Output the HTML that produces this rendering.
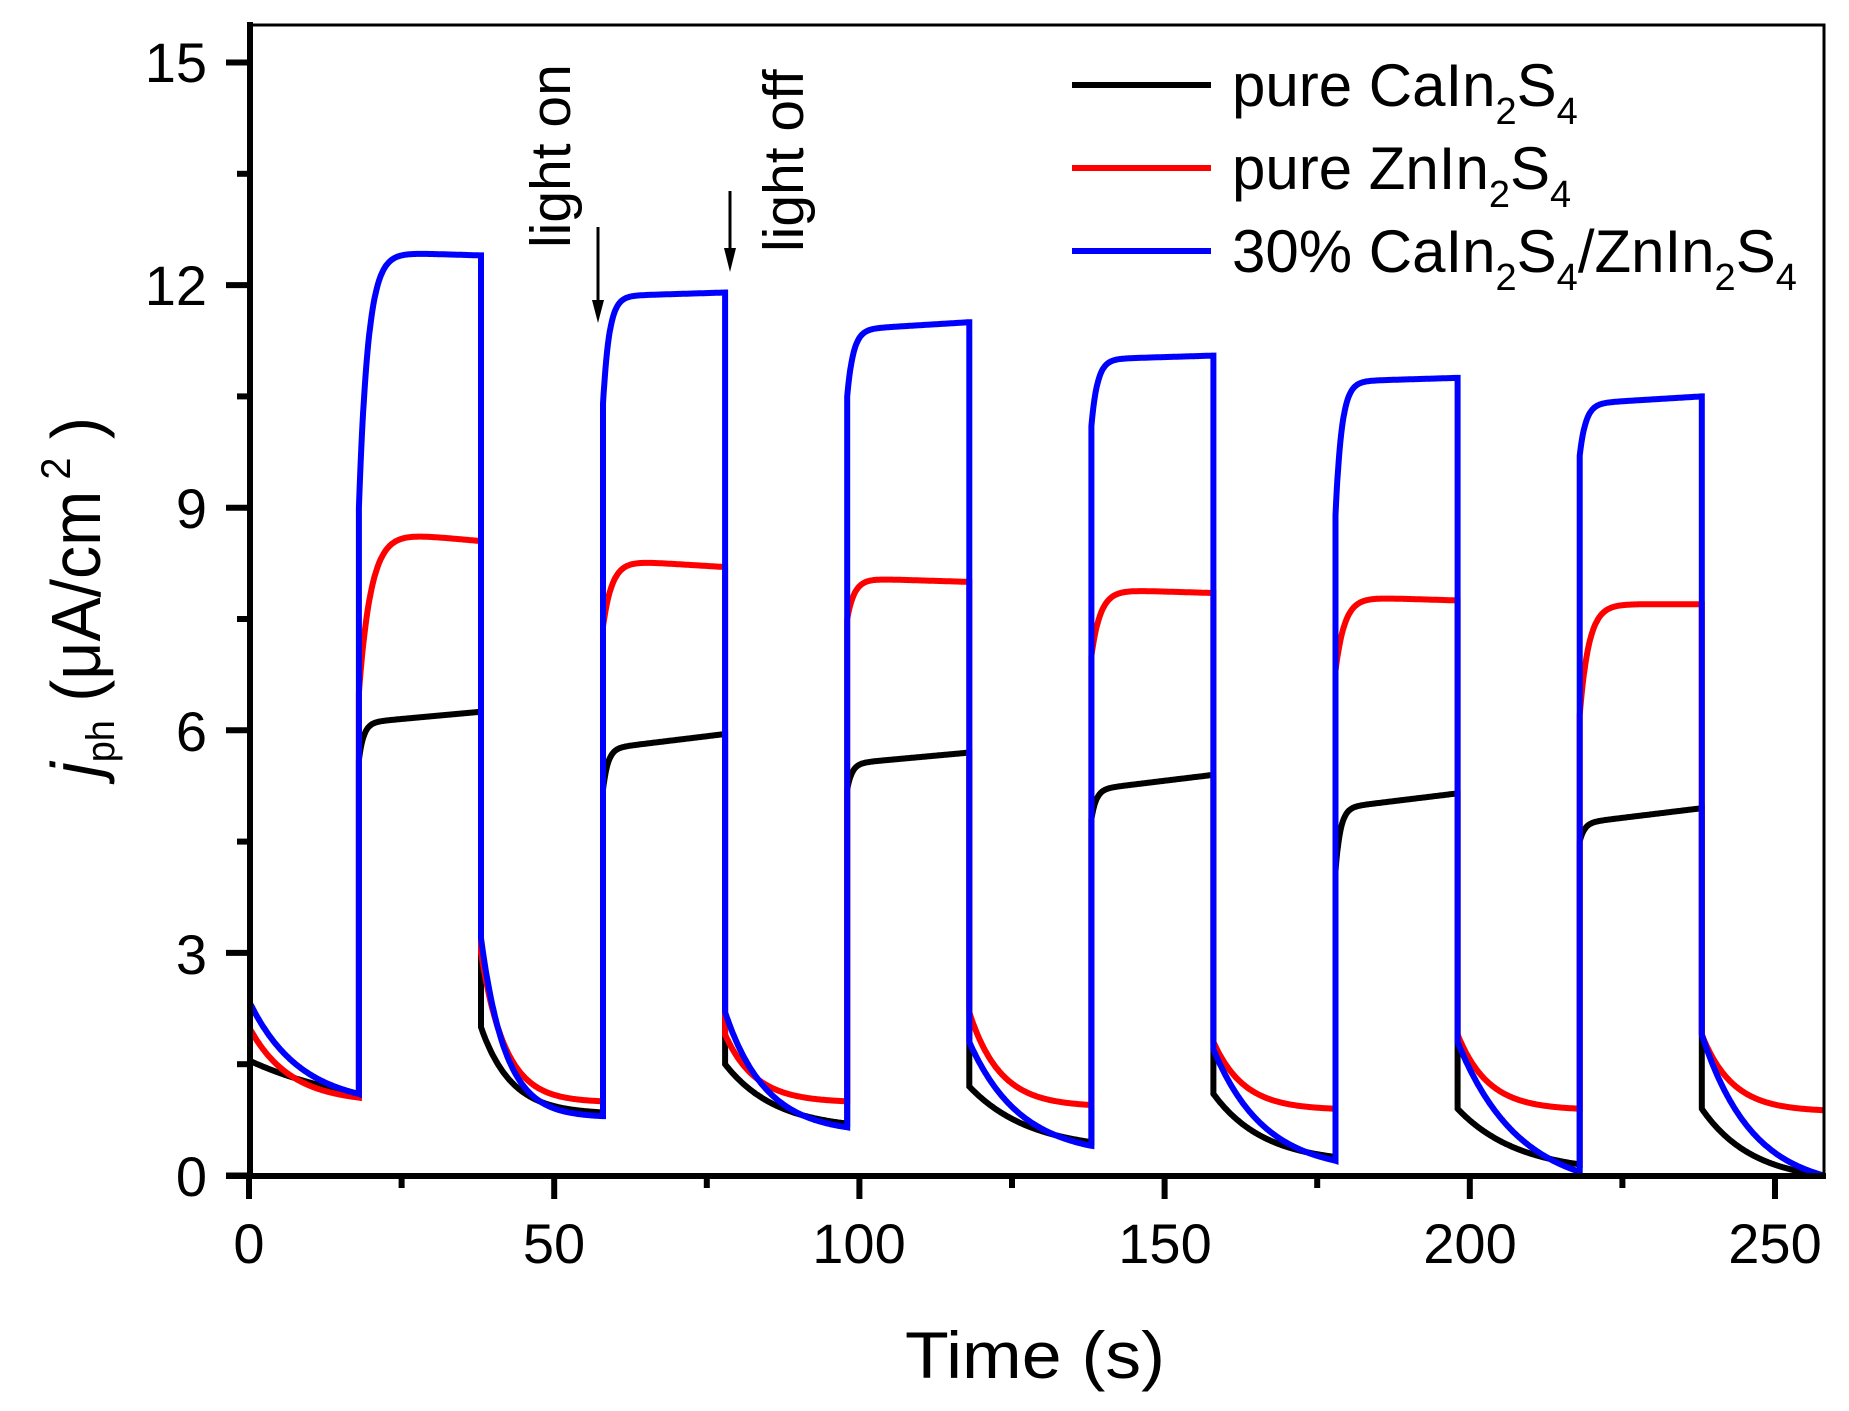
<!DOCTYPE html>
<html><head><meta charset="utf-8"><style>
html,body{margin:0;padding:0;background:#fff;}
svg{display:block;font-family:"Liberation Sans",Arial,sans-serif;}
</style></head><body>
<svg id="s" width="1849" height="1411" viewBox="0 0 1849 1411" xmlns="http://www.w3.org/2000/svg">
<rect width="1849" height="1411" fill="#fff"/>
<defs><clipPath id="c"><rect x="249" y="25" width="1575" height="1151"/></clipPath></defs>
<g id="data" clip-path="url(#c)" fill="none" stroke-width="6" stroke-linejoin="miter"></g>
<rect x="249" y="25" width="1575" height="1151" fill="none" stroke="#000" stroke-width="3"/>
<line x1="250" y1="22" x2="250" y2="1179" stroke="#000" stroke-width="6"/>
<line x1="226" y1="1176" x2="1826" y2="1176" stroke="#000" stroke-width="6"/>
<g id="ticks" stroke="#000" stroke-width="6"></g>
<g font-size="56" fill="#000">
<text x="207" y="1196" text-anchor="end">0</text>
<text x="207" y="974" text-anchor="end">3</text>
<text x="207" y="751" text-anchor="end">6</text>
<text x="207" y="528" text-anchor="end">9</text>
<text x="207" y="305" text-anchor="end">12</text>
<text x="207" y="82" text-anchor="end">15</text>
<text x="249" y="1263" text-anchor="middle">0</text>
<text x="554" y="1263" text-anchor="middle">50</text>
<text x="859" y="1263" text-anchor="middle">100</text>
<text x="1165" y="1263" text-anchor="middle">150</text>
<text x="1470" y="1263" text-anchor="middle">200</text>
<text x="1775" y="1263" text-anchor="middle">250</text>
</g>
<text x="905" y="1378" font-size="66" textLength="260" lengthAdjust="spacingAndGlyphs">Time (s)</text>
<text transform="translate(100,777) rotate(-90)" font-size="70" textLength="360" lengthAdjust="spacingAndGlyphs"><tspan font-style="italic">j</tspan><tspan font-size="40" dy="14">ph</tspan><tspan dy="-14"> (μA/cm</tspan><tspan font-size="42" dy="-30"> 2</tspan><tspan dy="30"> )</tspan></text>
<text transform="translate(570,248) rotate(-90)" font-size="57">light on</text>
<text transform="translate(803,252) rotate(-90)" font-size="57">light off</text>
<line x1="598" y1="227" x2="598" y2="305" stroke="#000" stroke-width="3"/>
<polygon points="592,300 604,300 598,323" fill="#000"/>
<line x1="730" y1="191" x2="730" y2="252" stroke="#000" stroke-width="3"/>
<polygon points="724,248 736,248 730,272" fill="#000"/>
<line x1="1072" y1="85" x2="1211" y2="85" stroke="#000" stroke-width="6"/>
<line x1="1072" y1="168" x2="1211" y2="168" stroke="#ff0000" stroke-width="6"/>
<line x1="1072" y1="251" x2="1211" y2="251" stroke="#0000ff" stroke-width="6"/>
<g font-size="60">
<text x="1232" y="106">pure CaIn<tspan font-size="38" dy="18">2</tspan><tspan dy="-18">S</tspan><tspan font-size="38" dy="18">4</tspan></text>
<text x="1232" y="189">pure ZnIn<tspan font-size="38" dy="18">2</tspan><tspan dy="-18">S</tspan><tspan font-size="38" dy="18">4</tspan></text>
<text x="1232" y="272">30% CaIn<tspan font-size="38" dy="18">2</tspan><tspan dy="-18">S</tspan><tspan font-size="38" dy="18">4</tspan><tspan dy="-18">/ZnIn</tspan><tspan font-size="38" dy="18">2</tspan><tspan dy="-18">S</tspan><tspan font-size="38" dy="18">4</tspan></text>
</g>
</svg>
<script>
(function(){
var X=function(t){return 249+6.104*t;}, Y=function(v){return 1175.5-74.2*v;};
var tk=document.getElementById('ticks'),h='';
for(var i=0;i<=10;i++){var y=Y(i*1.5);h+='<line x1="'+(i%2?237:226)+'" y1="'+y+'" x2="250" y2="'+y+'"/>';}
for(var i=0;i<=10;i++){var x=X(i*25);h+='<line x1="'+x+'" y1="1176" x2="'+x+'" y2="'+(i%2?1188:1199)+'"/>';}
tk.innerHTML=h;
function dark(pts,t0,t1,a,b,k){var L=t1-t0,eL=Math.exp(-k*L);for(var t=t0;t<=t1+1e-6;t+=0.1){var u=t-t0;pts.push([t,b+(a-b)*(Math.exp(-k*u)-eL)/(1-eL)]);}}
function light(pts,t0,t1,j,p,tau,f){var L=t1-t0;for(var t=t0;t<=t1+1e-6;t+=0.1){var u=t-t0;pts.push([t,p-(p-j)*Math.exp(-u/tau)+(f-p)*u/L]);}}
function build(D,Lt,tau){var pts=[];
 for(var c=0;c<7;c++){var t0=c===0?0:38+(c-1)*40;var t1=c===0?18:t0+20;
  var d=D[c];dark(pts,t0,t1,d[0],d[1],d[2]);
  if(c<6){var l=Lt[c];light(pts,t1,t1+20,l[0],l[1],l[3]||tau,l[2]);}}
 return pts.map(function(p){return X(p[0]).toFixed(1)+','+Y(p[1]).toFixed(1);}).join(' ');}
var black=build([[1.55,1.1,0.05],[2.0,0.85,0.2],[1.5,0.7,0.12],[1.2,0.45,0.1],[1.1,0.25,0.12],[0.9,0.15,0.1],[0.9,0.0,0.12]],
 [[5.6,6.1,6.25],[5.2,5.75,5.95],[5.2,5.55,5.7],[4.8,5.2,5.4],[4.1,4.95,5.15],[4.5,4.75,4.95]],0.8);
var red=build([[2.0,1.05,0.15],[3.0,1.0,0.25],[1.9,1.0,0.2],[2.2,0.95,0.2],[1.8,0.9,0.2],[1.9,0.9,0.2],[1.9,0.88,0.2]],
 [[6.5,8.7,8.55,2],[7.4,8.3,8.2,1.5],[7.5,8.05,8.0,1.2],[7.0,7.9,7.85,1.5],[6.8,7.8,7.75,1.5],[6.2,7.7,7.7,1.5]],1.5);
var blue=build([[2.35,1.1,0.12],[3.2,0.8,0.25],[2.2,0.65,0.15],[1.8,0.4,0.12],[1.7,0.2,0.12],[1.8,0.05,0.1],[1.9,0.0,0.12]],
 [[9.0,12.45,12.4,1.5],[10.4,11.85,11.9,1],[10.5,11.4,11.5,1],[10.1,11.0,11.05,1],[8.9,10.7,10.75,1],[9.7,10.4,10.5,1]],1);
document.getElementById('data').innerHTML=
 '<polyline stroke="#000" points="'+black+'"/>'+
 '<polyline stroke="#ff0000" points="'+red+'"/>'+
 '<polyline stroke="#0000ff" points="'+blue+'"/>';
})();
</script>
</body></html>
